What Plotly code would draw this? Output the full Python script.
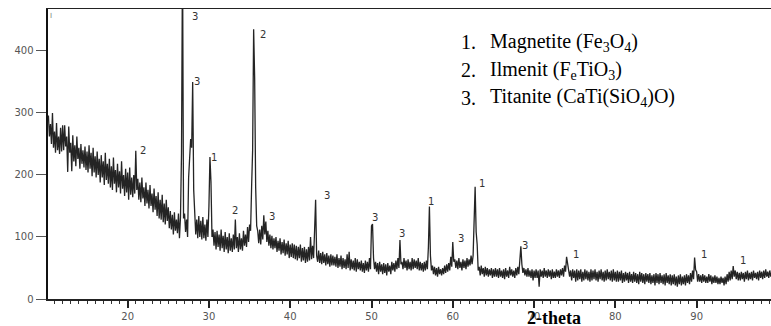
import numpy as np
import plotly.graph_objects as go

# 2-theta sampling grid of the scan (degrees)
TWO_THETA_START = 10.25
TWO_THETA_STEP = 0.125

# Intensity (counts), one row per 5 degrees of 2-theta
intensity = [
    # 10.25 - 15.125
    296, 262, 282, 250, 300, 244, 270, 236, 284, 240, 262, 234, 276, 238, 280, 240, 280, 246, 262, 205,
    278, 236, 252, 206, 264, 222, 248, 214, 262, 226, 244, 210, 250, 218, 240, 212, 246, 208, 238, 204,
    # 15.25 - 20.125
    248, 210, 236, 198, 244, 204, 230, 196, 238, 200, 226, 188, 232, 196, 222, 184, 236, 192, 218, 186,
    226, 180, 214, 176, 228, 186, 208, 172, 218, 180, 206, 170, 222, 178, 200, 166, 210, 172, 204, 160,
    # 20.25 - 25.125
    212, 168, 196, 164, 200, 170, 239, 176, 194, 160, 188, 156, 196, 162, 180, 150, 188, 154, 176, 146,
    184, 150, 170, 140, 178, 144, 166, 134, 172, 130, 160, 128, 168, 124, 154, 120, 160, 126, 148, 114,
    # 25.25 - 30.125
    142, 112, 136, 104, 140, 110, 128, 106, 138, 98, 132, 235, 560, 130, 138, 108, 128, 100, 196, 232,
    258, 244, 350, 176, 140, 104, 128, 98, 134, 100, 126, 96, 132, 98, 120, 94, 128, 100, 150, 229,
    # 30.25 - 35.125
    189, 100, 112, 86, 108, 80, 110, 84, 104, 78, 112, 82, 102, 76, 108, 80, 100, 74, 106, 78,
    98, 76, 104, 80, 128, 82, 100, 76, 106, 80, 98, 78, 110, 86, 104, 84, 116, 92, 120, 110,
    # 35.25 - 40.125
    181, 240, 435, 356, 180, 118, 110, 90, 112, 88, 118, 96, 135, 104, 125, 92, 110, 86, 104, 82,
    102, 80, 98, 82, 100, 76, 94, 78, 98, 72, 92, 74, 96, 70, 90, 72, 94, 66, 88, 68,
    # 40.25 - 45.125
    90, 66, 88, 64, 86, 62, 84, 66, 88, 60, 82, 62, 84, 58, 80, 60, 84, 62, 100, 64,
    86, 66, 111, 160, 70, 60, 78, 58, 74, 56, 76, 58, 72, 54, 74, 56, 70, 52, 72, 54,
    # 45.25 - 50.125
    70, 54, 68, 52, 72, 50, 66, 52, 70, 48, 66, 50, 64, 48, 72, 50, 76, 46, 64, 48,
    62, 46, 66, 44, 64, 48, 60, 46, 62, 44, 58, 42, 62, 46, 60, 44, 66, 48, 118, 121,
    # 50.25 - 55.125
    66, 48, 60, 44, 58, 40, 60, 44, 56, 40, 58, 42, 56, 38, 58, 44, 54, 40, 60, 46,
    58, 44, 62, 48, 66, 50, 95, 56, 60, 48, 66, 50, 62, 46, 64, 48, 60, 46, 66, 48,
    # 55.25 - 60.125
    64, 50, 62, 48, 66, 46, 60, 46, 58, 44, 60, 46, 62, 48, 84, 149, 70, 46, 54, 40,
    52, 38, 50, 36, 52, 40, 48, 38, 50, 40, 54, 42, 56, 44, 58, 46, 68, 52, 92, 60,
    # 60.25 - 65.125
    64, 50, 62, 48, 66, 50, 60, 46, 64, 50, 62, 48, 66, 52, 64, 54, 70, 56, 70, 131,
    181, 108, 88, 46, 52, 38, 54, 40, 50, 36, 52, 38, 50, 36, 48, 38, 50, 34, 48, 36,
    # 65.25 - 70.125
    50, 36, 48, 34, 50, 36, 46, 34, 48, 32, 50, 36, 46, 34, 52, 38, 48, 36, 46, 34,
    50, 38, 52, 40, 66, 85, 56, 42, 50, 38, 48, 36, 50, 36, 46, 34, 48, 30, 46, 34,
    # 70.25 - 75.125
    48, 34, 46, 20, 48, 36, 46, 34, 50, 36, 46, 34, 48, 36, 46, 32, 48, 34, 44, 34,
    48, 36, 46, 34, 48, 38, 50, 36, 54, 44, 68, 56, 50, 36, 46, 30, 48, 34, 46, 28,
    # 75.25 - 80.125
    48, 30, 46, 32, 48, 28, 44, 30, 48, 32, 46, 30, 44, 28, 48, 30, 46, 32, 48, 30,
    44, 28, 46, 32, 48, 30, 44, 28, 46, 30, 48, 32, 44, 30, 46, 28, 48, 30, 44, 28,
    # 80.25 - 85.125
    46, 28, 44, 30, 46, 26, 42, 28, 44, 30, 42, 26, 44, 28, 40, 26, 44, 28, 42, 26,
    40, 24, 44, 28, 42, 26, 40, 24, 42, 28, 40, 26, 42, 24, 38, 26, 40, 22, 42, 26,
    # 85.25 - 90.125
    40, 24, 42, 26, 38, 24, 40, 22, 42, 26, 38, 24, 40, 22, 38, 24, 40, 22, 36, 20,
    38, 24, 40, 22, 36, 24, 38, 22, 40, 26, 38, 24, 42, 28, 46, 32, 67, 47, 44, 28,
    # 90.25 - 95.125
    40, 28, 38, 26, 40, 28, 38, 26, 36, 26, 40, 28, 38, 24, 36, 26, 38, 26, 36, 24,
    34, 24, 36, 26, 34, 22, 36, 24, 40, 28, 44, 30, 46, 32, 53, 36, 46, 32, 44, 30,
    # 95.25 - 99.25
    42, 30, 44, 32, 42, 28, 44, 32, 46, 30, 42, 32, 44, 30, 46, 34, 42, 32, 44, 30,
    46, 34, 44, 32, 46, 34, 48, 36, 44, 34, 46, 36, 44,
]

two_theta = np.round(TWO_THETA_START + TWO_THETA_STEP * np.arange(len(intensity)), 3)

# Phase labels placed beside the peaks (2-theta, counts, phase number)
label_x = [21.89, 28.28, 28.53, 30.62, 36.64, 33.2, 37.72, 44.48, 50.42, 53.7, 57.27, 61.0, 63.54, 68.91, 75.1, 90.9, 95.65]
label_y = [240, 456, 350, 229, 427, 143, 133, 167, 132, 106, 157, 98, 187, 87, 71, 71, 62]
label_text = ["2", "3", "3", "1", "2", "2", "3", "3", "3", "3", "1", "3", "1", "3", "1", "1", "1"]

legend_nums = ["1.", "2.", "3."]
legend_names = [
    "Magnetite (Fe<sub>3</sub>O<sub>4</sub>)",
    "Ilmenit (F<sub>e</sub>TiO<sub>3</sub>)",
    "Titanite (CaTi(SiO<sub>4</sub>)O)",
]

x_ticks = [20, 30, 40, 50, 60, 70, 80, 90]
y_ticks = [0, 100, 200, 300, 400]

W, H = 771, 326
L, R, T, B = 48, 0, 9, 27
PW, PH = W - L - R, H - T - B


def px(x):
    return (x - L) / PW


def py(y):
    return (H - B - y) / PH


fig = go.Figure()
fig.add_trace(go.Scatter(
    x=two_theta, y=intensity, mode="lines",
    line=dict(color="#242424", width=1.3),
    hoverinfo="skip", showlegend=False,
))

ann = []
for lx, ly, lt in zip(label_x, label_y, label_text):
    ann.append(dict(x=lx, y=ly, xref="x", yref="y", text=lt, showarrow=False,
                    font=dict(family="DejaVu Sans", size=10, color="#333333"),
                    xanchor="center", yanchor="middle"))

leg_y = [42, 70, 98]
for i in range(3):
    ann.append(dict(x=px(459), y=py(leg_y[i]), xref="paper", yref="paper", text=legend_nums[i],
                    showarrow=False, xanchor="left", yanchor="middle",
                    font=dict(family="Liberation Serif", size=20, color="#000000")))
    ann.append(dict(x=px(488), y=py(leg_y[i]), xref="paper", yref="paper", text=legend_names[i],
                    showarrow=False, xanchor="left", yanchor="middle",
                    font=dict(family="Liberation Serif", size=20, color="#000000")))

ann.append(dict(x=px(525), y=py(318), xref="paper", yref="paper", text="<b>2-theta</b>",
                showarrow=False, xanchor="left", yanchor="middle",
                font=dict(family="Liberation Serif", size=18, color="#000000")))
ann.append(dict(x=px(51), y=py(16), xref="paper", yref="paper", text="I",
                showarrow=False, xanchor="center", yanchor="middle",
                font=dict(family="DejaVu Sans", size=7, color="#777777")))

fig.update_layout(
    width=W, height=H,
    margin=dict(l=L, r=R, t=T, b=B, pad=0),
    paper_bgcolor="white", plot_bgcolor="white",
    annotations=ann,
    xaxis=dict(
        range=[10.2, 99.15], tickvals=x_ticks, ticktext=[str(v) for v in x_ticks],
        ticks="outside", ticklen=7, tickwidth=2, tickcolor="#222222",
        minor=dict(dtick=1, ticks="outside", ticklen=3, tickwidth=1, tickcolor="#333333"),
        showline=True, linecolor="#222222", linewidth=1.5, mirror=True,
        showgrid=False, zeroline=False,
        tickfont=dict(family="DejaVu Sans", size=10, color="#555555"),
    ),
    yaxis=dict(
        range=[0, 467.7], tickvals=y_ticks, ticktext=[str(v) for v in y_ticks],
        ticks="outside", ticklen=10, tickwidth=1, tickcolor="#555555",
        showline=True, linecolor="#111111", linewidth=2.5,
        showgrid=False, zeroline=False,
        tickfont=dict(family="DejaVu Sans", size=10, color="#555555"),
    ),
)

fig.write_html(
    "out.html",
    config={"displayModeBar": False, "staticPlot": True},
    post_script="document.body.style.margin='0';document.body.style.overflow='hidden';",
)
